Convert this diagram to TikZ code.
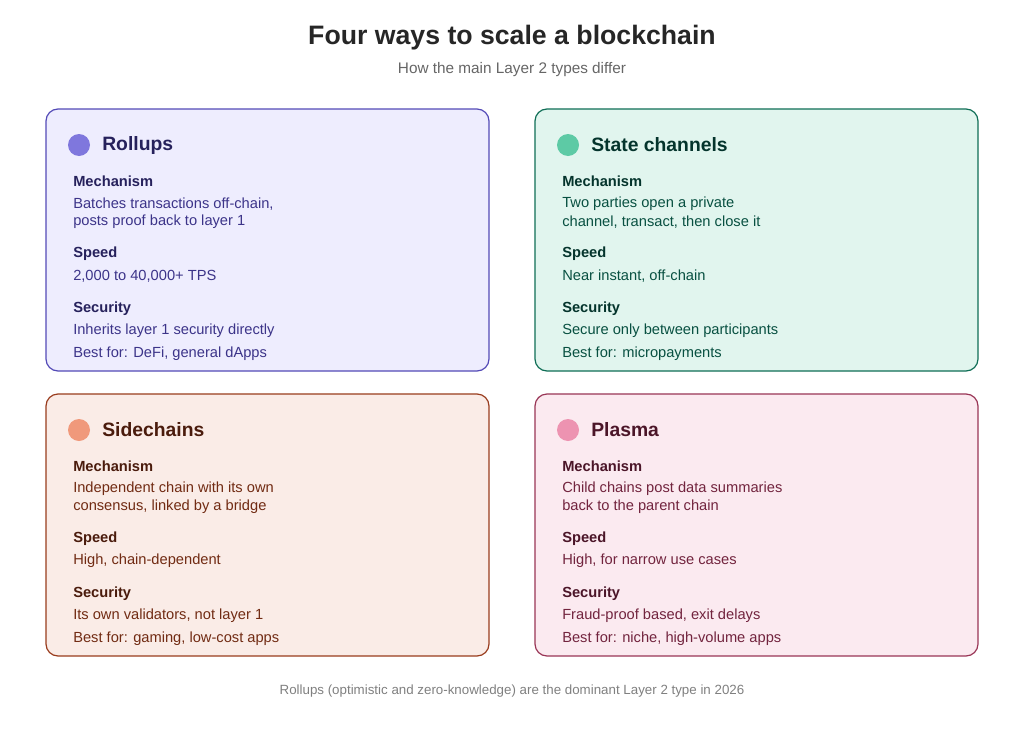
\documentclass[tikz,border=0pt]{standalone}
\usepackage{fontspec}
\setmainfont{Liberation Sans}
\usetikzlibrary{positioning}
\definecolor{rolFill}{HTML}{EEEDFE}\definecolor{rolLine}{HTML}{534AB7}\definecolor{rolDot}{HTML}{7F77DD}\definecolor{rolText}{HTML}{3C3489}\definecolor{rolHead}{HTML}{26215C}
\definecolor{staFill}{HTML}{E1F5EE}\definecolor{staLine}{HTML}{0F6E56}\definecolor{staDot}{HTML}{5DCAA5}\definecolor{staText}{HTML}{085041}\definecolor{staHead}{HTML}{04342C}
\definecolor{sidFill}{HTML}{FAECE7}\definecolor{sidLine}{HTML}{993C1D}\definecolor{sidDot}{HTML}{F0997B}\definecolor{sidText}{HTML}{712B13}\definecolor{sidHead}{HTML}{4A1B0C}
\definecolor{plaFill}{HTML}{FBEAF0}\definecolor{plaLine}{HTML}{993556}\definecolor{plaDot}{HTML}{ED93B1}\definecolor{plaText}{HTML}{72243E}\definecolor{plaHead}{HTML}{4B1528}
\newcommand{\card}[9]{%
  % #1 key, #2 x, #3 y, #4 title, #5 mech1, #6 mech2, #7 speed, #8 security, #9 best
  \draw[#1Line, fill=#1Fill, rounded corners=9, line width=0.9pt] (#2,#3) rectangle ++(443,262);
  \fill[#1Dot] (#2+33,#3+36) circle (11);
  \node[title, text=#1Head] (#1-title) at (#2+56,#3+36) {#4};
  \node[label, text=#1Head] (#1-mech) at (#2+27,#3+72) {Mechanism};
  \node[body, text=#1Text] (#1-m1) at (#2+27,#3+95) {#5};
  \node[body, text=#1Text] (#1-m2) at (#2+27,#3+113) {#6};
  \node[label, text=#1Head] (#1-speed) at (#2+27,#3+145) {Speed};
  \node[body, text=#1Text] (#1-s) at (#2+27,#3+167) {#7};
  \node[label, text=#1Head] (#1-sec) at (#2+27,#3+200) {Security};
  \node[body, text=#1Text] (#1-c) at (#2+27,#3+222) {#8};
  \node[body, text=#1Text] (#1-b) at (#2+27,#3+245) {#9};
}
\begin{document}
\begin{tikzpicture}[x=0.75pt, y=-0.75pt,
    title/.style = {anchor=west, inner sep=0, font=\fontsize{14.5}{16}\selectfont\bfseries},
    label/.style = {anchor=west, inner sep=0, font=\fontsize{11}{13}\selectfont\bfseries},
    body/.style = {anchor=west, inner sep=0, font=\fontsize{11}{13}\selectfont},
  ]
  \useasboundingbox[fill=white] (0,0) rectangle (1024,728);
  \node[font=\fontsize{20}{24}\selectfont\bfseries, text=black!85] (head) at (512,38) {Four ways to scale a blockchain};
  \node[font=\fontsize{11.5}{14}\selectfont, text=black!60] (sub) at (512,70) {How the main Layer 2 types differ};

  \card{rol}{46}{109}{Rollups}{Batches transactions off-chain,}{posts proof back to layer 1}{2,000 to 40,000+ TPS}{Inherits layer 1 security directly}{Best for: DeFi, general dApps}
  \card{sta}{535}{109}{State channels}{Two parties open a private}{channel, transact, then close it}{Near instant, off-chain}{Secure only between participants}{Best for: micropayments}
  \card{sid}{46}{394}{Sidechains}{Independent chain with its own}{consensus, linked by a bridge}{High, chain-dependent}{Its own validators, not layer 1}{Best for: gaming, low-cost apps}
  \card{pla}{535}{394}{Plasma}{Child chains post data summaries}{back to the parent chain}{High, for narrow use cases}{Fraud-proof based, exit delays}{Best for: niche, high-volume apps}

  \node[font=\fontsize{10}{12}\selectfont, text=black!50] (foot) at (512,691) {Rollups (optimistic and zero-knowledge) are the dominant Layer 2 type in 2026};
\end{tikzpicture}
\end{document}
